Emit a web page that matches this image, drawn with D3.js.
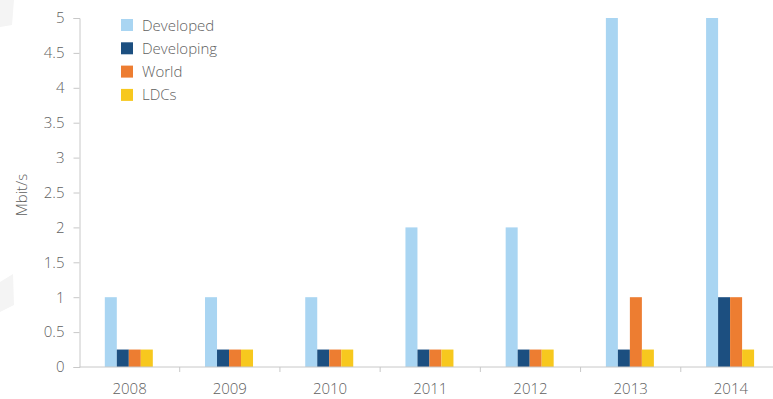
<!DOCTYPE html>
<html>
<head>
<meta charset="utf-8">
<script src="https://cdn.jsdelivr.net/npm/d3@7"></script>
<style>
  html, body { margin: 0; padding: 0; background: #fff; }
  svg { display: block; }
  text { font-family: "Open Sans", "Noto Sans", sans-serif; font-weight: 300; fill: #5f5f5f; }
</style>
</head>
<body>
<svg id="chart" width="773" height="399"></svg>
<script>
// Broadband speed (Mbit/s) by country group, 2008-2014
const years = ["2008", "2009", "2010", "2011", "2012", "2013", "2014"];
const seriesNames = ["Developed", "Developing", "World", "LDCs"];
const developed  = [1, 1, 1, 2, 2, 5, 5];
const developing = [0.25, 0.25, 0.25, 0.25, 0.25, 0.25, 1];
const world      = [0.25, 0.25, 0.25, 0.25, 0.25, 1, 1];
const ldcs       = [0.25, 0.25, 0.25, 0.25, 0.25, 0.25, 0.25];
const yTicks = [0, 0.5, 1, 1.5, 2, 2.5, 3, 3.5, 4, 4.5, 5];

const seriesValues = [developed, developing, world, ldcs];
const colors = ["#a9d5f2", "#1c4f80", "#ed7d31", "#f7c81e"];

const svg = d3.select("#chart");
const margin = { left: 79.5, top: 18, bottom: 367 };

// faint background shapes along the left edge
svg.append("path").attr("d", "M0,0 L14,0 L12,25 L0,27 Z").attr("fill", "#f4f4f4");
svg.append("path").attr("d", "M0,282 L13,274 L14,305 L0,312 Z").attr("fill", "#f4f4f4");

const x = d3.scaleBand().domain(years).range([margin.left, 781]).paddingInner(0).paddingOuter(0);
const inner = d3.scaleBand().domain(seriesNames).range([0, 48]);
const y = d3.scaleLinear().domain([0, 5]).range([margin.bottom, margin.top]);

// bars
seriesNames.forEach((name, si) => {
  svg.append("g").selectAll("rect")
    .data(years.map((yr, i) => ({ yr, v: seriesValues[si][i] })))
    .join("rect")
    .attr("x", d => x(d.yr) + (x.bandwidth() - 48) / 2 - 0.8 + inner(name))
    .attr("width", inner.bandwidth())
    .attr("y", d => y(d.v))
    .attr("height", d => y(0) - y(d.v))
    .attr("fill", colors[si]);
});

// y axis
const yAxis = svg.append("g")
  .attr("transform", `translate(${margin.left},0)`)
  .call(d3.axisLeft(y).tickValues(yTicks).tickSize(6).tickPadding(9)
    .tickFormat(d => String(d)));
yAxis.select(".domain").attr("stroke", "#c8c8c8");
yAxis.selectAll(".tick line").attr("stroke", "#c8c8c8");
yAxis.selectAll("text").attr("font-size", 15).attr("font-family", null).style("fill", "#5f5f5f");

// x axis: ticks sit on band boundaries
const xAxis = svg.append("g").attr("transform", `translate(0,${margin.bottom})`);
xAxis.append("line")
  .attr("x1", margin.left).attr("x2", 781)
  .attr("stroke", "#c8c8c8");
xAxis.selectAll("line.tk")
  .data(years.slice(1))
  .join("line")
  .attr("class", "tk")
  .attr("x1", d => x(d)).attr("x2", d => x(d))
  .attr("y1", 0).attr("y2", 5)
  .attr("stroke", "#c8c8c8");
xAxis.selectAll("text")
  .data(years)
  .join("text")
  .attr("x", d => x(d) + x.bandwidth() / 2)
  .attr("y", 27)
  .attr("text-anchor", "middle")
  .attr("font-size", 15)
  .text(d => d);

// y axis title
svg.append("text")
  .attr("transform", "translate(27,195) rotate(-90)")
  .attr("text-anchor", "middle")
  .attr("font-size", 15)
  .text("Mbit/s");

// legend
const legend = svg.append("g").attr("transform", "translate(121,25)");
seriesNames.forEach((name, i) => {
  const row = legend.append("g").attr("transform", `translate(0,${i * 23.3})`);
  row.append("rect").attr("x", 0).attr("y", -6).attr("width", 12).attr("height", 12).attr("fill", colors[i]);
  row.append("text").attr("x", 21).attr("y", 5.5).attr("font-size", 15).text(name);
});
</script>
</body>
</html>
